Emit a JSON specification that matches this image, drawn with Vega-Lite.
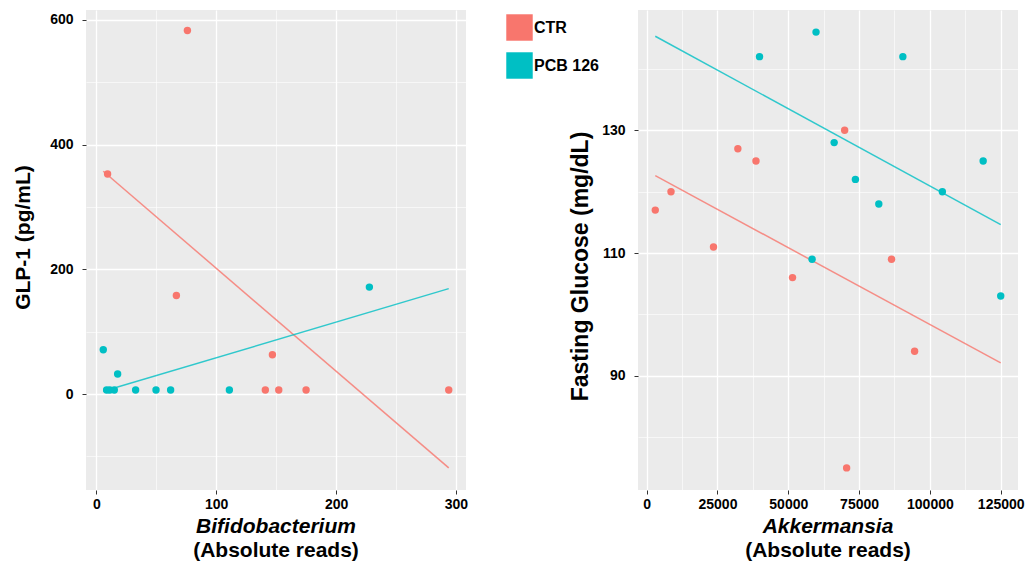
{
  "$schema": "https://vega.github.io/schema/vega-lite/v6.json",
  "background": "white",
  "padding": {"left": 12, "top": 10, "right": 2, "bottom": 0},
  "bounds": "flush",
  "spacing": 172,
  "resolve": {"legend": {"color": "independent"}},
  "datasets": {
    "glp": [
      {"Group": "CTR", "Bifidobacterium": 76, "GLP1": 583},
      {"Group": "CTR", "Bifidobacterium": 9.4, "GLP1": 353},
      {"Group": "CTR", "Bifidobacterium": 66.8, "GLP1": 158},
      {"Group": "CTR", "Bifidobacterium": 146.9, "GLP1": 63},
      {"Group": "CTR", "Bifidobacterium": 141, "GLP1": 6.4},
      {"Group": "CTR", "Bifidobacterium": 152.2, "GLP1": 6.4},
      {"Group": "CTR", "Bifidobacterium": 175, "GLP1": 6.4},
      {"Group": "CTR", "Bifidobacterium": 294, "GLP1": 6.4},
      {"Group": "PCB 126", "Bifidobacterium": 5.8, "GLP1": 71},
      {"Group": "PCB 126", "Bifidobacterium": 17.8, "GLP1": 32},
      {"Group": "PCB 126", "Bifidobacterium": 8.6, "GLP1": 6.4},
      {"Group": "PCB 126", "Bifidobacterium": 11.2, "GLP1": 6.4},
      {"Group": "PCB 126", "Bifidobacterium": 15, "GLP1": 6.4},
      {"Group": "PCB 126", "Bifidobacterium": 32.8, "GLP1": 6.4},
      {"Group": "PCB 126", "Bifidobacterium": 49.8, "GLP1": 6.4},
      {"Group": "PCB 126", "Bifidobacterium": 62, "GLP1": 6.4},
      {"Group": "PCB 126", "Bifidobacterium": 111, "GLP1": 6.4},
      {"Group": "PCB 126", "Bifidobacterium": 227.8, "GLP1": 171.5}
    ],
    "glu": [
      {"Group": "CTR", "Akkermansia": 3050, "Glucose": 117},
      {"Group": "CTR", "Akkermansia": 8600, "Glucose": 120},
      {"Group": "CTR", "Akkermansia": 23600, "Glucose": 111},
      {"Group": "CTR", "Akkermansia": 32200, "Glucose": 127},
      {"Group": "CTR", "Akkermansia": 38600, "Glucose": 125},
      {"Group": "CTR", "Akkermansia": 51500, "Glucose": 106},
      {"Group": "CTR", "Akkermansia": 69900, "Glucose": 130},
      {"Group": "CTR", "Akkermansia": 70600, "Glucose": 75},
      {"Group": "CTR", "Akkermansia": 86450, "Glucose": 109},
      {"Group": "CTR", "Akkermansia": 94600, "Glucose": 94},
      {"Group": "PCB 126", "Akkermansia": 39850, "Glucose": 142},
      {"Group": "PCB 126", "Akkermansia": 58400, "Glucose": 109},
      {"Group": "PCB 126", "Akkermansia": 59800, "Glucose": 146},
      {"Group": "PCB 126", "Akkermansia": 66200, "Glucose": 128},
      {"Group": "PCB 126", "Akkermansia": 73700, "Glucose": 122},
      {"Group": "PCB 126", "Akkermansia": 81960, "Glucose": 118},
      {"Group": "PCB 126", "Akkermansia": 90450, "Glucose": 142},
      {"Group": "PCB 126", "Akkermansia": 104400, "Glucose": 120},
      {"Group": "PCB 126", "Akkermansia": 118800, "Glucose": 125},
      {"Group": "PCB 126", "Akkermansia": 125000, "Glucose": 103}
    ]
  },
  "config": {
    "font": "Liberation Sans",
    "view": {"fill": "#EBEBEB", "stroke": null},
    "axis": {
      "domain": false,
      "tickColor": "#333333",
      "tickSize": 4,
      "labelFont": "Liberation Sans",
      "labelFontSize": 14,
      "labelFontWeight": "bold",
      "labelColor": "#000000",
      "gridColor": "#FFFFFF",
      "titleFont": "Liberation Sans",
      "titleFontSize": 21,
      "titleFontWeight": "bold",
      "titleColor": "#000000",
      "labelFlush": false,
      "labelOverlap": false
    },
    "axisX": {"labelPadding": 3},
    "axisY": {"labelPadding": 9},
    "title": {
      "font": "Liberation Sans",
      "fontSize": 21,
      "fontWeight": "bold",
      "fontStyle": "italic",
      "color": "#000000",
      "subtitleFont": "Liberation Sans",
      "subtitleFontSize": 21,
      "subtitleFontWeight": "bold",
      "subtitleFontStyle": "normal",
      "subtitleColor": "#000000",
      "orient": "bottom",
      "anchor": "middle",
      "offset": 5,
      "subtitlePadding": 3
    }
  },
  "hconcat": [
    {
      "width": 380,
      "height": 480,
      "data": {"name": "glp"},
      "title": {"text": "Bifidobacterium", "subtitle": "(Absolute reads)"},
      "encoding": {
        "x": {
          "field": "Bifidobacterium",
          "type": "quantitative",
          "scale": {"domain": [-8.6, 308.4], "nice": false, "zero": false},
          "axis": {
            "title": null,
            "format": "d",
            "values": [0, 50, 100, 150, 200, 250, 300],
            "labelExpr": "datum.value % 100 === 0 ? datum.label : ''",
            "tickOpacity": {"condition": {"test": "datum.value % 100 === 0", "value": 1}, "value": 0},
            "gridWidth": {"condition": {"test": "datum.value % 100 === 0", "value": 1.3}, "value": 0.6}
          }
        },
        "y": {
          "field": "GLP1",
          "type": "quantitative",
          "scale": {"domain": [-154, 616], "nice": false, "zero": false},
          "axis": {
            "title": "GLP-1 (pg/mL)",
            "titlePadding": 16,
            "titleY": 227,
            "format": "d",
            "values": [-100, 0, 100, 200, 300, 400, 500, 600],
            "labelExpr": "datum.value % 200 === 0 ? datum.label : ''",
            "tickOpacity": {"condition": {"test": "datum.value % 200 === 0", "value": 1}, "value": 0},
            "gridWidth": {"condition": {"test": "datum.value % 200 === 0", "value": 1.3}, "value": 0.6}
          }
        }
      },
      "layer": [
        {
          "transform": [{"regression": "GLP1", "on": "Bifidobacterium", "groupby": ["Group"], "extent": [5.8, 294]}],
          "mark": {"type": "line", "strokeWidth": 1.5, "opacity": 0.8},
          "encoding": {
            "stroke": {"field": "Group", "type": "nominal", "scale": {"domain": ["CTR", "PCB 126"], "range": ["#F8766D", "#00BFC4"]}, "legend": null}
          }
        },
        {
          "mark": {"type": "circle", "size": 55, "opacity": 1},
          "encoding": {
            "color": {
              "field": "Group",
              "type": "nominal",
              "scale": {"domain": ["CTR", "PCB 126"], "range": ["#F8766D", "#00BFC4"]},
              "legend": {
                "title": null,
                "orient": "right",
                "offset": 36,
                "padding": 4,
                "symbolType": "square",
                "symbolSize": 700,
                "symbolStrokeWidth": 0,
                "symbolOpacity": 1,
                "labelFont": "Liberation Sans",
                "labelFontSize": 16,
                "labelFontWeight": "bold",
                "labelColor": "#000000",
                "labelOffset": 1,
                "rowPadding": 11
              }
            }
          }
        }
      ]
    },
    {
      "width": 380,
      "height": 480,
      "data": {"name": "glu"},
      "title": {"text": "Akkermansia", "subtitle": "(Absolute reads)"},
      "encoding": {
        "x": {
          "field": "Akkermansia",
          "type": "quantitative",
          "scale": {"domain": [-3050, 131100], "nice": false, "zero": false},
          "axis": {
            "title": null,
            "format": "d",
            "values": [0, 12500, 25000, 37500, 50000, 62500, 75000, 87500, 100000, 112500, 125000],
            "labelExpr": "datum.value % 25000 === 0 ? datum.label : ''",
            "tickOpacity": {"condition": {"test": "datum.value % 25000 === 0", "value": 1}, "value": 0},
            "gridWidth": {"condition": {"test": "datum.value % 25000 === 0", "value": 1.3}, "value": 0.6}
          }
        },
        "y": {
          "field": "Glucose",
          "type": "quantitative",
          "scale": {"domain": [71.4, 149.6], "nice": false, "zero": false},
          "axis": {
            "title": "Fasting Glucose (mg/dL)",
            "titleFontSize": 23,
            "titlePadding": 9,
            "titleY": 256,
            "format": "d",
            "values": [80, 90, 100, 110, 120, 130, 140],
            "labelExpr": "datum.value % 20 === 10 ? datum.label : ''",
            "tickOpacity": {"condition": {"test": "datum.value % 20 === 10", "value": 1}, "value": 0},
            "gridWidth": {"condition": {"test": "datum.value % 20 === 10", "value": 1.3}, "value": 0.6}
          }
        }
      },
      "layer": [
        {
          "transform": [{"regression": "Glucose", "on": "Akkermansia", "groupby": ["Group"], "extent": [3050, 125000]}],
          "mark": {"type": "line", "strokeWidth": 1.5, "opacity": 0.8},
          "encoding": {
            "stroke": {"field": "Group", "type": "nominal", "scale": {"domain": ["CTR", "PCB 126"], "range": ["#F8766D", "#00BFC4"]}, "legend": null}
          }
        },
        {
          "mark": {"type": "circle", "size": 55, "opacity": 1},
          "encoding": {
            "fill": {"field": "Group", "type": "nominal", "scale": {"domain": ["CTR", "PCB 126"], "range": ["#F8766D", "#00BFC4"]}, "legend": null}
          }
        }
      ]
    }
  ]
}
